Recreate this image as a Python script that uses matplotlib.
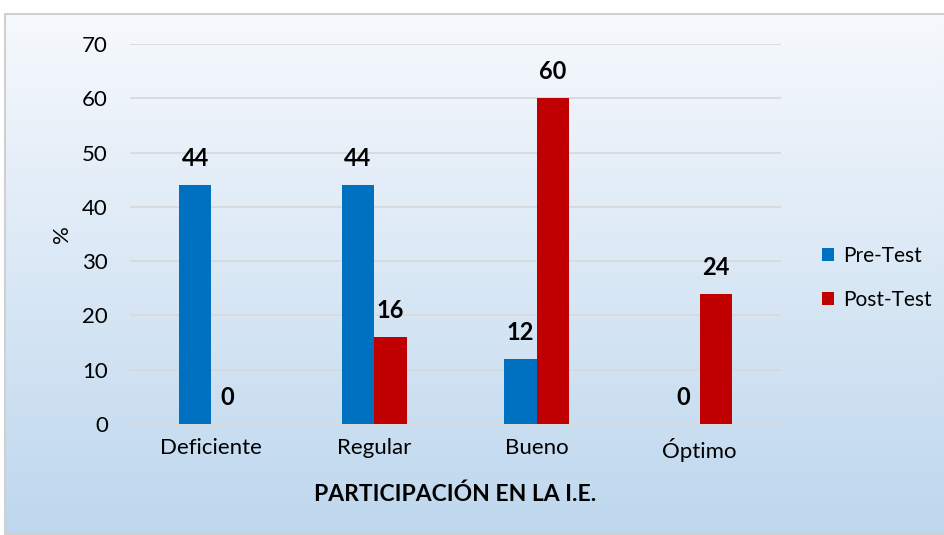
import matplotlib
matplotlib.use("Agg")
import matplotlib.pyplot as plt
import numpy as np
from matplotlib.patches import Rectangle

plt.rcParams['font.family'] = ['Lato', 'DejaVu Sans']

categories = ["Deficiente", "Regular", "Bueno", "Óptimo"]
pre_test = [44, 44, 12, 0]
post_test = [0, 16, 60, 24]
series_names = ["Pre-Test", "Post-Test"]
yticks = [0, 10, 20, 30, 40, 50, 60, 70]

W, H = 945, 535
fig = plt.figure(figsize=(W / 100, H / 100), dpi=100)
fig.patch.set_facecolor("white")

# gradient background of the chart area
bg = fig.add_axes([5 / W, 0, 1 - 5 / W, (H - 14) / H])
grad = np.linspace(0, 1, 256).reshape(-1, 1)
top = np.array([0.965, 0.976, 0.992])
bot = np.array([0.745, 0.843, 0.933])
img = top[None, None, :] * (1 - grad[:, :, None]) + bot[None, None, :] * grad[:, :, None]
bg.imshow(img, aspect="auto", extent=[0, 1, 0, 1], origin="upper")
bg.set_xlim(0, 1)
bg.set_ylim(0, 1)
bg.axis("off")
bg.add_patch(Rectangle((0, 0), 1, 1, transform=bg.transAxes, fill=False,
                       edgecolor="#D0D0D0", linewidth=1.5, clip_on=False))

ax = fig.add_axes([130 / W, (H - 424) / H, (781 - 130) / W, (424 - 44) / H])
ax.set_facecolor("none")
x = np.arange(len(categories))
w = 0.2
b1 = ax.bar(x - w / 2, pre_test, w, color="#0070C0", label=series_names[0], zorder=3)
b2 = ax.bar(x + w / 2, post_test, w, color="#C00000", label=series_names[1], zorder=3)

for bars in (b1, b2):
    for r in bars:
        ax.annotate(f"{int(r.get_height())}", (r.get_x() + r.get_width() / 2, r.get_height()),
                    xytext=(0, 19), textcoords="offset points", ha="center", va="center",
                    fontsize=17, fontweight="bold", color="black")

ax.set_xlim(-0.5, len(categories) - 0.5)
ax.set_ylim(0, 70)
ax.set_yticks(yticks)
ax.set_xticks(x)
ax.set_xticklabels(categories, fontsize=16)
ax.tick_params(axis="y", labelsize=16, length=0, pad=16)
ax.tick_params(axis="x", length=0, pad=10)
ax.grid(axis="y", color="#D9D9D9", linewidth=1.3, zorder=0)
for s in ["top", "right", "left"]:
    ax.spines[s].set_visible(False)
ax.spines["bottom"].set_color("#D9D9D9")
ax.spines["bottom"].set_linewidth(1.3)

ax.text(-68 / 651, 0.5, "%", transform=ax.transAxes, rotation=90,
        ha="center", va="center", fontsize=16)
ax.text(0.5, -70 / 380, "PARTICIPACIÓN EN LA I.E.", transform=ax.transAxes,
        ha="center", va="center", fontsize=16.5, fontweight="bold")

leg = fig.legend(handles=[b1, b2], labels=series_names, loc="center left",
                 bbox_to_anchor=(822 / W, (H - 278) / H), frameon=False,
                 fontsize=15, handlelength=0.6, handleheight=0.6,
                 handletextpad=0.4, labelspacing=1.15, borderpad=0,
                 borderaxespad=0)

fig.savefig("out.png", dpi=100)
